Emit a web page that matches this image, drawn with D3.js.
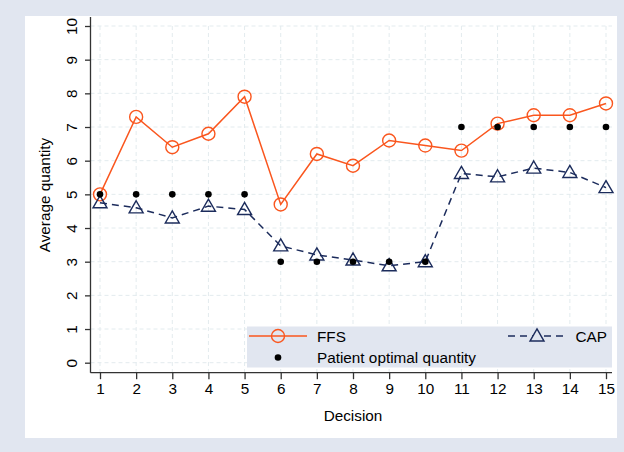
<!DOCTYPE html>
<html>
<head>
<meta charset="utf-8">
<script src="https://cdn.jsdelivr.net/npm/d3@7"></script>
<style>
  body { margin: 0; background: #e1e6f0; }
  svg { display: block; font-family: "Liberation Sans", Arial, sans-serif; }
</style>
</head>
<body>
<svg id="chart"></svg>
<script>
// Decision number 1..15
const decisions = d3.range(1, 16);
const ffs = [5.0, 7.3, 6.4, 6.8, 7.9, 4.7, 6.2, 5.85, 6.6, 6.45, 6.3, 7.1, 7.35, 7.35, 7.7];
const cap = [4.75, 4.6, 4.3, 4.65, 4.55, 3.47, 3.2, 3.05, 2.88, 3.0, 5.62, 5.52, 5.78, 5.65, 5.2];
const optimal = [5, 5, 5, 5, 5, 3, 3, 3, 3, 3, 7, 7, 7, 7, 7];
const yTicks = d3.range(0, 11);

const width = 624, height = 452;
const orange = "#fa561e", navy = "#1c2c5c", bg = "#e1e6f0";
const fs = "15.3px";

const svg = d3.select("#chart").attr("width", width).attr("height", height);

// outer background and white plot panel
svg.append("rect").attr("width", width).attr("height", height).attr("fill", bg);
svg.append("rect").attr("x", 25).attr("y", 16).attr("width", 592).attr("height", 422).attr("fill", "#fff");

const x = d3.scaleLinear().domain([1, 15]).range([100, 606]);
const y = d3.scaleLinear().domain([0, 10]).range([362.7, 26]);
const plot = { left: 90.5, bottom: 372.7, top: 17, right: 612 };

// grid
const grid = svg.append("g").attr("stroke", "#e3ebee").attr("stroke-width", 1).attr("stroke-dasharray", "4,3");
grid.selectAll(".gy").data(yTicks).join("line")
  .attr("x1", plot.left).attr("x2", plot.right)
  .attr("y1", d => y(d)).attr("y2", d => y(d));
grid.selectAll(".gx").data(decisions).join("line")
  .attr("x1", d => x(d)).attr("x2", d => x(d))
  .attr("y1", y(10)).attr("y2", plot.bottom);

// axes
const yAxis = svg.append("g")
  .attr("transform", `translate(${plot.left},0)`)
  .call(d3.axisLeft(y).tickValues(yTicks).tickSize(5.5).tickPadding(0).tickFormat(d3.format("d")));
yAxis.select(".domain").attr("d", `M0,${plot.top}V${plot.bottom}`);
yAxis.selectAll("text").remove();
yAxis.selectAll(".tick").append("text")
  .attr("transform", "translate(-14,0) rotate(-90)")
  .attr("text-anchor", "middle")
  .attr("fill", "#000")
  .style("font-size", fs)
  .text(d => d);

const xAxis = svg.append("g")
  .attr("transform", `translate(0,${plot.bottom})`)
  .call(d3.axisBottom(x).tickValues(decisions).tickSize(6.5).tickPadding(0).tickFormat(d3.format("d")));
xAxis.select(".domain").attr("d", `M${plot.left},0H${plot.right}`);
xAxis.selectAll("text").attr("y", 21.5).attr("dy", 0).attr("fill", "#000").style("font-size", fs);
svg.selectAll(".domain, .tick line").attr("stroke", "#333").attr("stroke-width", 1.3);

// axis titles
svg.append("text").attr("transform", `translate(49.5,195) rotate(-90)`)
  .attr("text-anchor", "middle").style("font-size", fs).text("Average quantity");
svg.append("text").attr("x", 353).attr("y", 421)
  .attr("text-anchor", "middle").style("font-size", fs).text("Decision");

// series
const line = d3.line().x((d, i) => x(decisions[i])).y(d => y(d));
svg.append("path").datum(ffs).attr("d", line)
  .attr("fill", "none").attr("stroke", orange).attr("stroke-width", 1.5);
svg.append("path").datum(cap).attr("d", line)
  .attr("fill", "none").attr("stroke", navy).attr("stroke-width", 1.5).attr("stroke-dasharray", "7,5");

const tri = d3.symbol().type(d3.symbolTriangle).size(85);

svg.selectAll(".ffs").data(ffs).join("circle")
  .attr("cx", (d, i) => x(decisions[i])).attr("cy", d => y(d)).attr("r", 6.5)
  .attr("fill", "none").attr("stroke", orange).attr("stroke-width", 1.4);
svg.selectAll(".cap").data(cap).join("path")
  .attr("d", tri)
  .attr("transform", (d, i) => `translate(${x(decisions[i])},${y(d) + 1})`)
  .attr("fill", "none").attr("stroke", navy).attr("stroke-width", 1.4);
svg.selectAll(".opt").data(optimal).join("circle")
  .attr("cx", (d, i) => x(decisions[i])).attr("cy", d => y(d)).attr("r", 3.3)
  .attr("fill", "#000");

// legend
const lg = svg.append("g");
lg.append("rect").attr("x", 247).attr("y", 326.5).attr("width", 365).attr("height", 41).attr("fill", bg);
lg.append("line").attr("x1", 249).attr("x2", 307).attr("y1", 336).attr("y2", 336)
  .attr("stroke", orange).attr("stroke-width", 1.5);
lg.append("circle").attr("cx", 278).attr("cy", 336).attr("r", 6.5)
  .attr("fill", "none").attr("stroke", orange).attr("stroke-width", 1.4);
lg.append("text").attr("x", 317).attr("y", 341.5).style("font-size", fs).text("FFS");
lg.append("line").attr("x1", 508).attr("x2", 567).attr("y1", 336).attr("y2", 336)
  .attr("stroke", navy).attr("stroke-width", 1.5).attr("stroke-dasharray", "7,5");
lg.append("path").attr("d", tri).attr("transform", "translate(537,337)")
  .attr("fill", bg).attr("stroke", navy).attr("stroke-width", 1.4);
lg.append("text").attr("x", 607).attr("y", 341.5).attr("text-anchor", "end").style("font-size", fs).text("CAP");
lg.append("circle").attr("cx", 278).attr("cy", 357.5).attr("r", 3.3).attr("fill", "#000");
lg.append("text").attr("x", 317).attr("y", 363).style("font-size", fs).text("Patient optimal quantity");
</script>
</body>
</html>
